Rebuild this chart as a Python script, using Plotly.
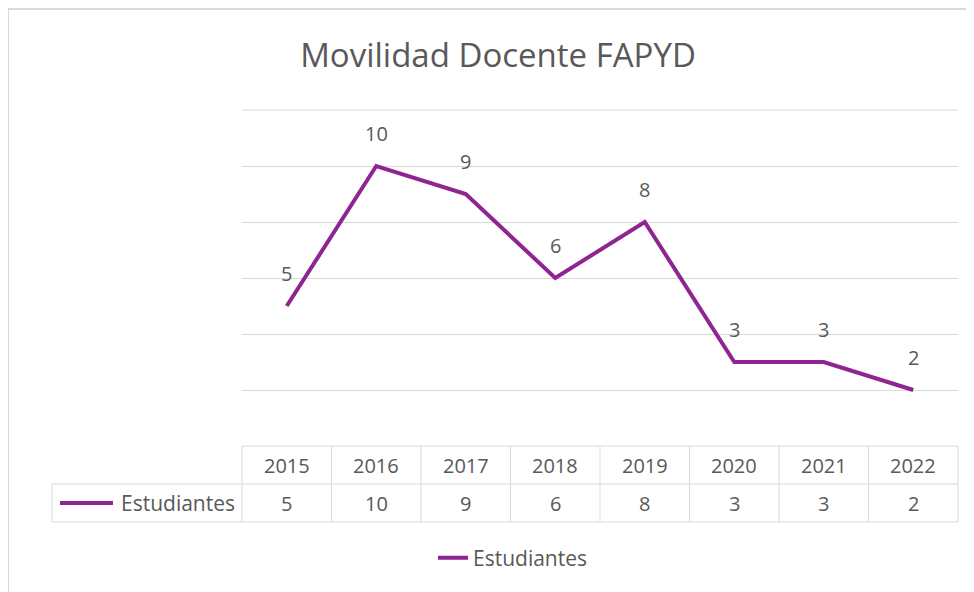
import plotly.graph_objects as go

# datos
anios = ["2015", "2016", "2017", "2018", "2019", "2020", "2021", "2022"]
estudiantes = [5, 10, 9, 6, 8, 3, 3, 2]
serie = "Estudiantes"
titulo = "Movilidad Docente FAPYD"

morado = "#8E2590"
gris_txt = "#595959"
gris_lin = "#D9D9D9"
fuente = "Open Sans"

O = 8                      # margen del body de la pagina
W, H = 974 - O, 592 - O
L, R, T, B = 242, 958, 110, 446   # area del grafico (pixeles de pantalla)


def px(p):
    return (p - L) / (R - L)


def py(p):
    return (B - p) / (B - T)


def txt(size=20):
    return dict(size=size, color=gris_txt, family=fuente)


fig = go.Figure()
fig.add_trace(go.Scatter(x=anios, y=estudiantes, mode="lines", name=serie,
                         line=dict(color=morado, width=4)))

# etiquetas de datos
for i, v in enumerate(estudiantes):
    fig.add_annotation(x=i, y=v, text=str(v), showarrow=False, yshift=33,
                       xanchor="center", yanchor="middle", font=txt())

# tabla de datos
shapes = []
shapes.append(dict(type="line", xref="paper", yref="paper", x0=0, x1=1, y0=1, y1=1))
shapes.append(dict(type="line", xref="paper", yref="paper", x0=0, x1=1, y0=py(446), y1=py(446)))
for yy in (484, 522):
    shapes.append(dict(type="line", xref="paper", yref="paper", x0=px(52), x1=1, y0=py(yy), y1=py(yy)))
shapes.append(dict(type="line", xref="paper", yref="paper", x0=px(52), x1=px(52), y0=py(484), y1=py(522)))
for i in range(len(anios) + 1):
    xx = i / len(anios)
    shapes.append(dict(type="line", xref="paper", yref="paper", x0=xx, x1=xx, y0=py(446), y1=py(522)))
for s in shapes:
    s["line"] = dict(color=gris_lin, width=1)
# clave de la serie en la tabla
shapes.append(dict(type="line", xref="paper", yref="paper", x0=px(60), x1=px(113), y0=py(503), y1=py(503),
                   line=dict(color=morado, width=4)))
# borde del grafico
shapes.append(dict(type="rect", xref="paper", yref="paper", x0=px(8), x1=px(990), y0=py(9), y1=py(640),
                   line=dict(color=gris_lin, width=2)))

for i, (a, v) in enumerate(zip(anios, estudiantes)):
    fig.add_annotation(x=i, y=py(465), yref="paper", text=a, showarrow=False,
                       xanchor="center", yanchor="middle", font=txt())
    fig.add_annotation(x=i, y=py(503), yref="paper", text=str(v), showarrow=False,
                       xanchor="center", yanchor="middle", font=txt())
fig.add_annotation(x=px(237), y=py(503), xref="paper", yref="paper", xanchor="right", yanchor="middle",
                   text=serie, showarrow=False, font=txt(21))

fig.update_layout(
    width=W, height=H,
    margin=dict(l=L - O, r=974 - R, t=T - O, b=592 - B),
    plot_bgcolor="white", paper_bgcolor="white",
    shapes=shapes,
    title=dict(text=titulo, x=(498 - O) / W, xanchor="center", y=1 - (55 - O) / H, yanchor="middle",
               font=txt(33)),
    showlegend=True,
    legend=dict(orientation="h", x=px(433), xanchor="left", y=py(558), yanchor="middle",
                font=txt(21)),
    xaxis=dict(range=[-0.5, 7.5], showticklabels=False, showgrid=False, zeroline=False),
    yaxis=dict(range=[0, 12], dtick=2, showticklabels=False, showgrid=True, gridcolor=gris_lin,
               gridwidth=1, zeroline=False),
)

fig.write_html("out.html")
